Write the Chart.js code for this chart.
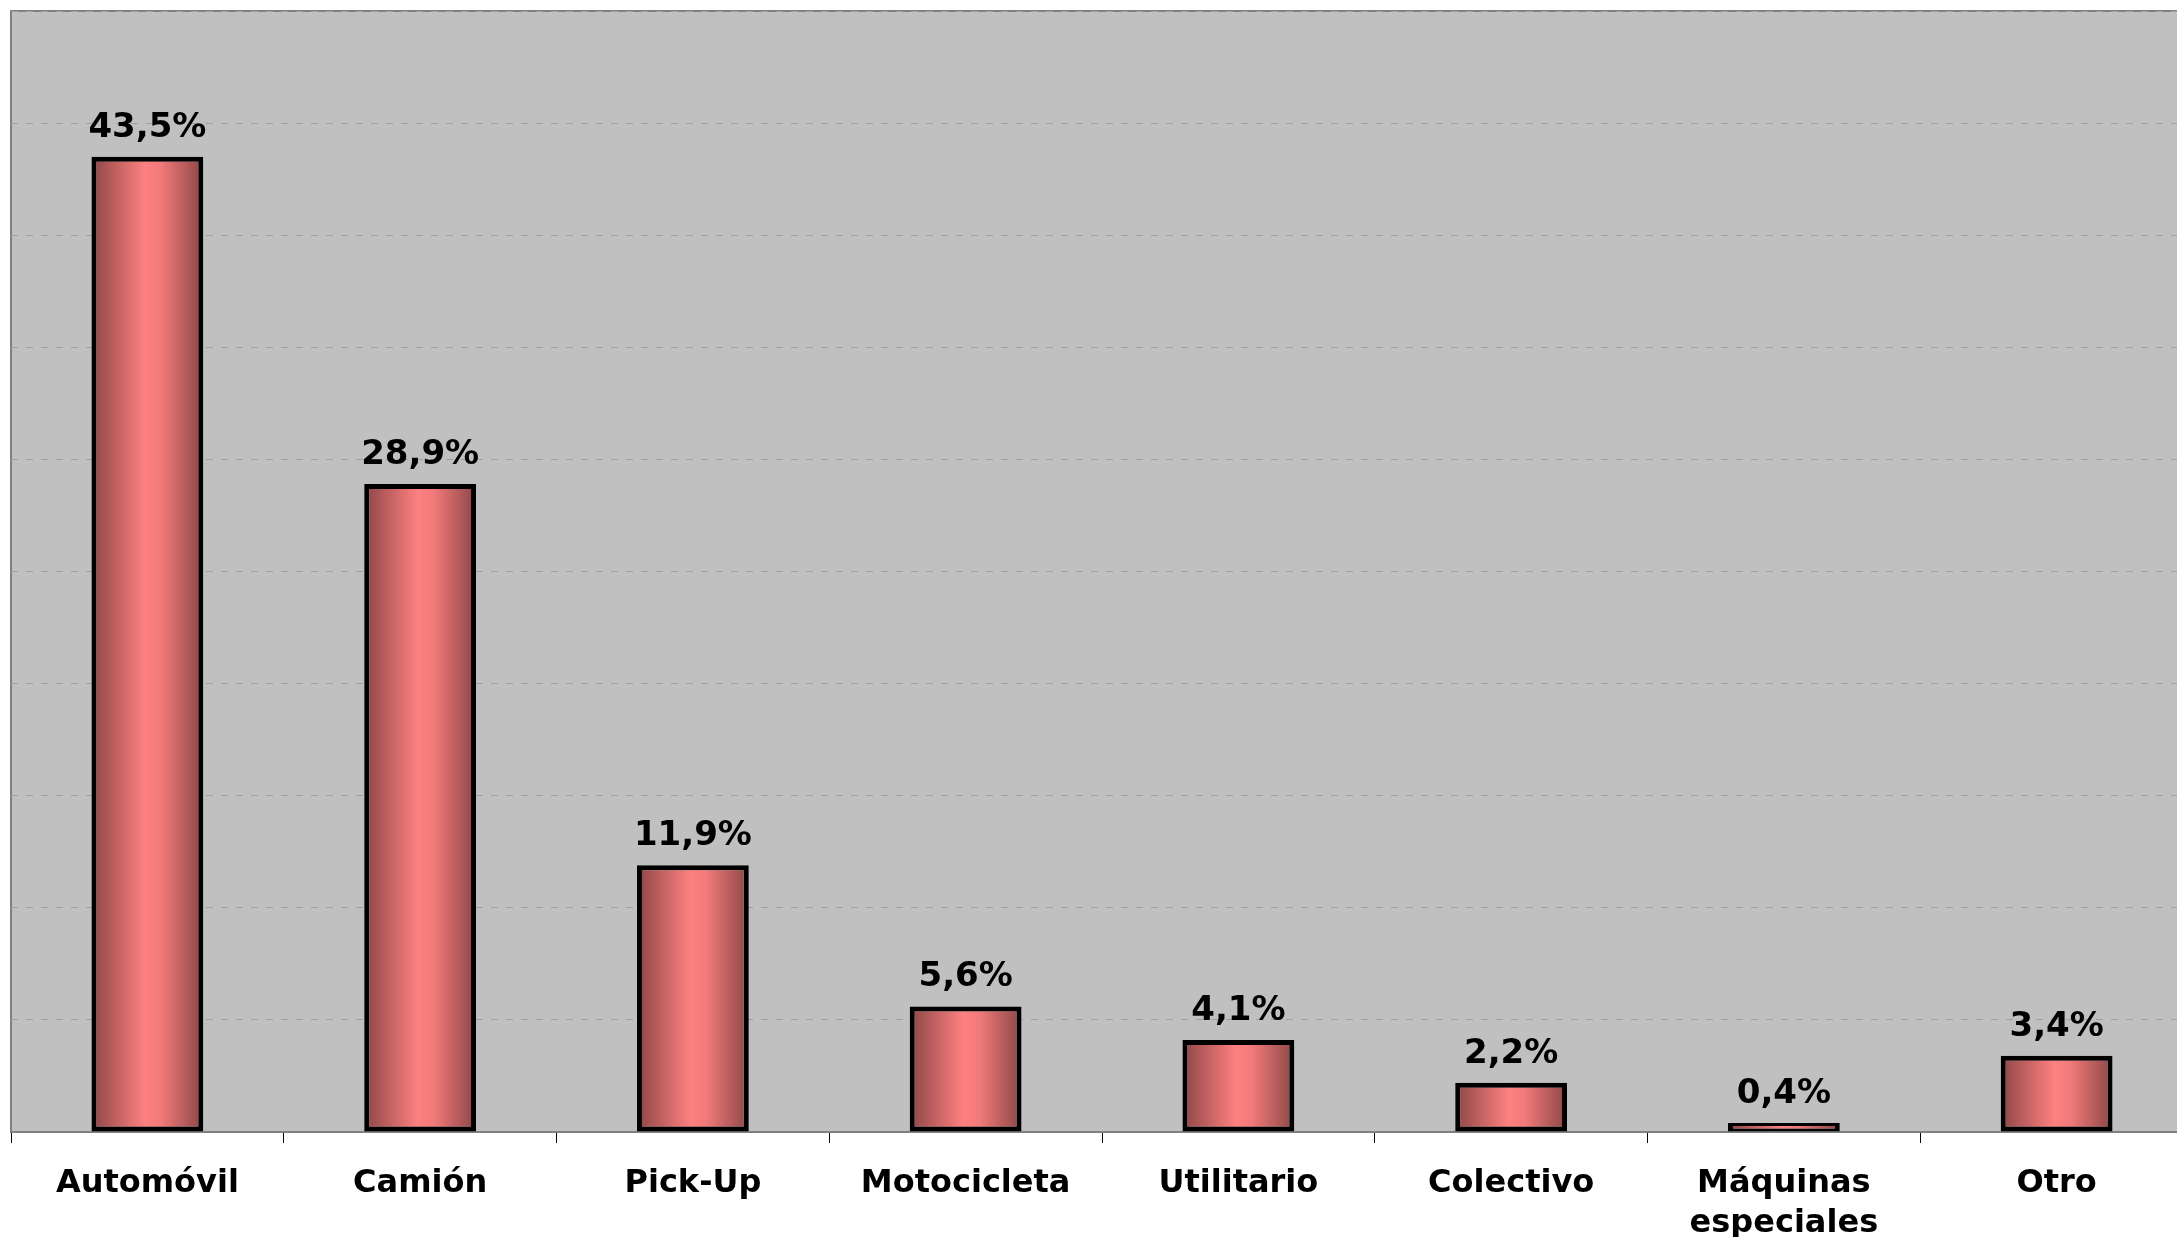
<!DOCTYPE html>
<html>
<head>
<meta charset="utf-8">
<script src="https://cdn.jsdelivr.net/npm/chart.js@4/dist/chart.umd.min.js"></script>
<style>
html,body{margin:0;padding:0;background:#fff;overflow:hidden;width:2177px;height:1237px;}
#wrap{position:absolute;left:0;top:0;width:2193px;height:1237px;}
</style>
</head>
<body>
<div id="wrap"><canvas id="c" width="2193" height="1237"></canvas></div>
<script>
const categories = ["Automóvil", "Camión", "Pick-Up", "Motocicleta", "Utilitario", "Colectivo", ["Máquinas", "especiales"], "Otro"];
const values = [43.5, 28.9, 11.9, 5.6, 4.1, 2.2, 0.4, 3.4];
const yMax = 50;
const yStep = 5;

const FONT = "'DejaVu Sans', Verdana, sans-serif";
const BAR_PCT = 0.41;

function barGradient(ctx) {
  const chart = ctx.chart;
  const xs = chart.scales && chart.scales.x;
  if (!chart.chartArea || !xs) return '#ff8080';
  const cx = xs.getPixelForValue(ctx.dataIndex);
  const w = (xs.width / categories.length) * BAR_PCT;
  const g = chart.ctx.createLinearGradient(cx - w / 2, 0, cx + w / 2, 0);
  g.addColorStop(0, '#8c4646');
  g.addColorStop(0.48, '#ff8080');
  g.addColorStop(0.62, '#f27a7a');
  g.addColorStop(1, '#8c4646');
  return g;
}

function barBorder(ctx) {
  const v = values[ctx.dataIndex];
  if (v < 1) return {top: 3, bottom: 3, left: 5, right: 5};
  return 5;
}

const bgPlugin = {
  id: 'plotBg',
  beforeDraw(chart) {
    const {ctx, chartArea: a} = chart;
    ctx.save();
    ctx.fillStyle = '#c0c0c0';
    ctx.fillRect(a.left, a.top, a.right - a.left, a.bottom - a.top);
    ctx.strokeStyle = '#808080';
    ctx.lineWidth = 2;
    ctx.beginPath();
    ctx.moveTo(a.left, a.bottom);
    ctx.lineTo(a.left, a.top);
    ctx.lineTo(a.right, a.top);
    ctx.stroke();
    ctx.restore();
  }
};

const labelPlugin = {
  id: 'valueLabels',
  afterDatasetsDraw(chart) {
    const {ctx} = chart;
    const meta = chart.getDatasetMeta(0);
    ctx.save();
    ctx.fillStyle = '#000';
    ctx.font = "bold 34px " + FONT;
    ctx.textAlign = 'center';
    ctx.textBaseline = 'alphabetic';
    meta.data.forEach((el, i) => {
      const txt = values[i].toFixed(1).replace('.', ',') + '%';
      ctx.fillText(txt, el.x, el.y - 20);
    });
    ctx.restore();
  }
};

new Chart(document.getElementById('c'), {
  type: 'bar',
  data: {
    labels: categories,
    datasets: [{
      data: values,
      backgroundColor: barGradient,
      borderColor: '#000',
      borderWidth: barBorder,
      borderSkipped: false,
      categoryPercentage: 1,
      barPercentage: BAR_PCT
    }]
  },
  options: {
    responsive: false,
    devicePixelRatio: 1,
    animation: false,
    layout: {padding: {left: 11, top: 11, right: 0, bottom: 0}},
    plugins: {legend: {display: false}, tooltip: {enabled: false}},
    scales: {
      x: {
        grid: {offset: true, drawOnChartArea: false, drawTicks: true, tickLength: 11, color: '#000', lineWidth: 1},
        border: {display: true, color: '#808080', width: 2},
        ticks: {color: '#000', padding: 21, maxRotation: 0, autoSkip: false,
          font: {family: FONT, size: 32, weight: 'bold', lineHeight: 1.25}},
        afterFit(s) { s.height = 105; }
      },
      y: {
        min: 0, max: yMax,
        ticks: {display: false, stepSize: yStep},
        grid: {color: '#a0a0a0', lineWidth: 1, drawTicks: false},
        border: {display: false, dash: [7, 8]},
        afterFit(s) { s.width = 0; }
      }
    }
  },
  plugins: [bgPlugin, labelPlugin]
});
</script>
</body>
</html>
